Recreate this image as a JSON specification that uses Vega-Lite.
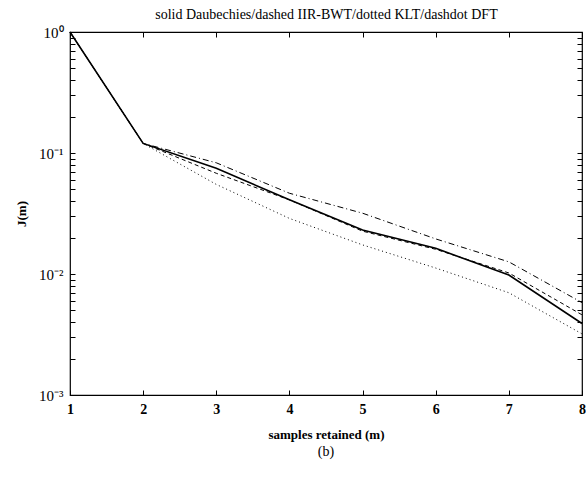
{
  "$schema": "https://vega.github.io/schema/vega-lite/v6.json",
  "width": 512,
  "height": 363,
  "autosize": "none",
  "padding": {"left": 70, "top": 32, "right": 4, "bottom": 83},
  "background": "white",
  "config": {
    "view": {"stroke": "black", "strokeWidth": 1.2},
    "font": "Liberation Serif",
    "axis": {"grid": false, "domainColor": "black", "tickColor": "black", "labelColor": "black", "titleColor": "black", "labelFont": "Liberation Serif", "titleFont": "Liberation Serif"}
  },
  "title": {"text": "(b)", "orient": "bottom", "font": "Liberation Serif", "fontSize": 14, "fontWeight": "normal", "color": "black", "offset": 4},
  "data": {"values": [
    {"m": 1, "J": 1, "s": "Daubechies"}, {"m": 2, "J": 0.12, "s": "Daubechies"}, {"m": 3, "J": 0.0747, "s": "Daubechies"}, {"m": 4, "J": 0.041, "s": "Daubechies"}, {"m": 5, "J": 0.0231, "s": "Daubechies"}, {"m": 6, "J": 0.0163, "s": "Daubechies"}, {"m": 7, "J": 0.0098, "s": "Daubechies"}, {"m": 8, "J": 0.0039, "s": "Daubechies"},
    {"m": 1, "J": 1, "s": "IIR-BWT"}, {"m": 2, "J": 0.12, "s": "IIR-BWT"}, {"m": 3, "J": 0.068, "s": "IIR-BWT"}, {"m": 4, "J": 0.041, "s": "IIR-BWT"}, {"m": 5, "J": 0.0226, "s": "IIR-BWT"}, {"m": 6, "J": 0.016, "s": "IIR-BWT"}, {"m": 7, "J": 0.0102, "s": "IIR-BWT"}, {"m": 8, "J": 0.0046, "s": "IIR-BWT"},
    {"m": 1, "J": 1, "s": "KLT"}, {"m": 2, "J": 0.12, "s": "KLT"}, {"m": 3, "J": 0.055, "s": "KLT"}, {"m": 4, "J": 0.0288, "s": "KLT"}, {"m": 5, "J": 0.0174, "s": "KLT"}, {"m": 6, "J": 0.0112, "s": "KLT"}, {"m": 7, "J": 0.007, "s": "KLT"}, {"m": 8, "J": 0.0032, "s": "KLT"},
    {"m": 1, "J": 1, "s": "DFT"}, {"m": 2, "J": 0.12, "s": "DFT"}, {"m": 3, "J": 0.083, "s": "DFT"}, {"m": 4, "J": 0.0465, "s": "DFT"}, {"m": 5, "J": 0.0318, "s": "DFT"}, {"m": 6, "J": 0.0195, "s": "DFT"}, {"m": 7, "J": 0.0126, "s": "DFT"}, {"m": 8, "J": 0.0058, "s": "DFT"}
  ]},
  "layer": [
    {
      "transform": [{"filter": "datum.s != 'Daubechies'"}],
      "mark": {"type": "line", "color": "black", "strokeWidth": 1},
      "encoding": {
        "x": {"field": "m", "type": "quantitative", "scale": {"domain": [1, 8], "nice": false, "zero": false},
              "axis": {"orient": "top", "values": [1,2,3,4,5,6,7,8], "labels": false, "tickSize": -5, "domain": false, "title": "solid Daubechies/dashed IIR-BWT/dotted KLT/dashdot DFT", "titleFontSize": 14, "titleFontWeight": "normal", "titlePadding": 10}},
        "y": {"field": "J", "type": "quantitative", "scale": {"type": "log", "domain": [0.001, 1], "nice": false},
              "axis": {"orient": "right", "values": [0.001,0.002,0.003,0.004,0.005,0.006,0.007,0.008,0.009,0.01,0.02,0.03,0.04,0.05,0.06,0.07,0.08,0.09,0.1,0.2,0.3,0.4,0.5,0.6,0.7,0.8,0.9,1], "labels": false, "tickSize": -5, "domain": false, "title": null}},
        "strokeDash": {"field": "s", "type": "nominal", "legend": null, "scale": {"domain": ["IIR-BWT", "KLT", "DFT"], "range": [[4, 3], [1, 3], [6, 3, 1, 3]]}},
        "detail": {"field": "s"}
      }
    },
    {
      "transform": [{"filter": "datum.s == 'Daubechies'"}],
      "mark": {"type": "line", "color": "black", "strokeWidth": 1.6},
      "encoding": {
        "x": {"field": "m", "type": "quantitative",
              "axis": {"orient": "bottom", "values": [1,2,3,4,5,6,7,8], "format": "d", "tickSize": -5, "labelPadding": 12, "labelFontSize": 14, "labelFontWeight": "bold", "labelFlush": false, "domain": false, "title": "samples retained (m)", "titleFontSize": 13, "titleFontWeight": "bold", "titlePadding": 12}},
        "y": {"field": "J", "type": "quantitative",
              "axis": {"orient": "left", "values": [0.001,0.002,0.003,0.004,0.005,0.006,0.007,0.008,0.009,0.01,0.02,0.03,0.04,0.05,0.06,0.07,0.08,0.09,0.1,0.2,0.3,0.4,0.5,0.6,0.7,0.8,0.9,1], "tickSize": -5, "labelPadding": 12, "labelFontSize": 15, "labelFlush": false, "domain": false,
                       "labelExpr": "datum.value == 1 ? '10⁰' : datum.value == 0.1 ? '10⁻¹' : datum.value == 0.01 ? '10⁻²' : datum.value == 0.001 ? '10⁻³' : ''",
                       "title": "J(m)", "titleFontSize": 13, "titleFontWeight": "bold", "titlePadding": 10}}
      }
    }
  ],
  "resolve": {"axis": {"x": "independent", "y": "independent"}}
}
